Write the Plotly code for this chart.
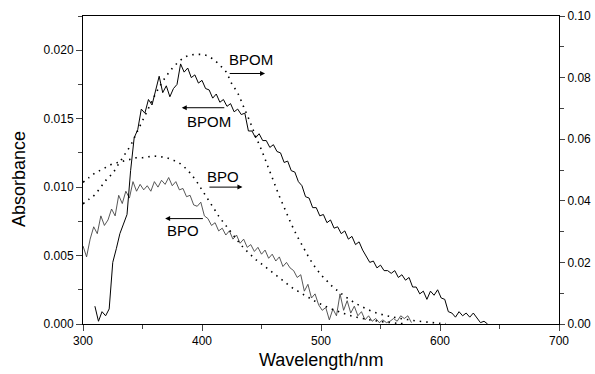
import plotly.graph_objects as go

# ---------------- data ----------------
# BPOM measured spectrum (left axis), 310..640 nm every 3 nm
bpom_wl = list(range(310, 641, 3))
bpom_abs = [
    0.0013, 0.0002, 0.0009, 0.0006, 0.0011, 0.0045, 0.0055, 0.0066, 0.0073, 0.0080,
    0.0112, 0.0136, 0.0142, 0.0157, 0.0154, 0.0164, 0.0160, 0.0170, 0.0181, 0.0169,
    0.0174, 0.0166, 0.0172, 0.0175, 0.0190, 0.0184, 0.0187, 0.0180, 0.0182, 0.0176,
    0.0178, 0.0172, 0.0171, 0.0165, 0.0168, 0.0162, 0.0164, 0.0159, 0.0161, 0.0155,
    0.0157, 0.0153, 0.0154, 0.0141, 0.0141, 0.0136, 0.0139, 0.0134, 0.0134, 0.0129,
    0.0131, 0.0126, 0.0125, 0.0118, 0.0119, 0.0112, 0.0111, 0.0104, 0.0101, 0.0093,
    0.0092, 0.0085, 0.0085, 0.0079, 0.0080, 0.0074, 0.0076, 0.0070, 0.0071, 0.0066,
    0.0068, 0.0062, 0.0064, 0.0058, 0.0060, 0.0054, 0.0049, 0.0045, 0.0046, 0.0041,
    0.0043, 0.0039, 0.0039, 0.0037, 0.0039, 0.0034, 0.0036, 0.0032, 0.0034, 0.0027,
    0.0027, 0.0022, 0.0024, 0.0018, 0.0024, 0.0021, 0.0025, 0.0019, 0.0018, 0.0009,
    0.0008, 0.0005, 0.0009, 0.0006, 0.0008, 0.0005, 0.0008, 0.0004, 0.0001, 0.0002,
    0.0000,
]

# BPO measured spectrum (left axis), 300..576 nm every 3 nm
bpo_wl = list(range(300, 577, 3))
bpo_abs = [
    0.0057, 0.0049, 0.0062, 0.0071, 0.0066, 0.0079, 0.0072, 0.0076, 0.0084, 0.0079,
    0.0094, 0.0088, 0.0097, 0.0092, 0.0104, 0.0097, 0.0102, 0.0098, 0.0101, 0.0097,
    0.0104, 0.0100, 0.0105, 0.0102, 0.0107, 0.0101, 0.0104, 0.0098, 0.0099, 0.0093,
    0.0094, 0.0087, 0.0086, 0.0089, 0.0079, 0.0077, 0.0072, 0.0074, 0.0068, 0.0070,
    0.0065, 0.0068, 0.0062, 0.0065, 0.0059, 0.0062, 0.0056, 0.0058, 0.0053, 0.0056,
    0.0051, 0.0054, 0.0048, 0.0051, 0.0046, 0.0049, 0.0042, 0.0045, 0.0041, 0.0039,
    0.0034, 0.0036, 0.0024, 0.0029, 0.0019, 0.0022, 0.0014, 0.0010, 0.0012, 0.0003,
    0.0011, 0.0006, 0.0022, 0.0010, 0.0017, 0.0008, 0.0013, 0.0006, 0.0009, 0.0003,
    0.0006, 0.0002, 0.0004, 0.0001, 0.0003, 0.0001, 0.0002, 0.0004, 0.0002, 0.0006,
    0.0004, 0.0006, 0.0001,
]

# BPOM calculated spectrum (right axis, dotted), 300..605 nm every 5 nm
bpom_calc_wl = list(range(300, 606, 5))
bpom_calc = [
    0.039, 0.0405, 0.042, 0.0445, 0.047, 0.049, 0.052, 0.055, 0.058, 0.062,
    0.066, 0.070, 0.074, 0.0775, 0.0805, 0.083, 0.085, 0.0865, 0.0873, 0.0875,
    0.0875, 0.087, 0.0858, 0.084, 0.082, 0.078, 0.075, 0.0705, 0.066, 0.061,
    0.0565, 0.0515, 0.0465, 0.0415, 0.037, 0.0325, 0.0285, 0.025, 0.0215, 0.0185,
    0.016, 0.014, 0.012, 0.0105, 0.009, 0.0077, 0.0065, 0.0055, 0.0046, 0.0038,
    0.0032, 0.0027, 0.0023, 0.0019, 0.0016, 0.0013, 0.0010, 0.0008, 0.0006, 0.0004,
    0.0002, 0.0001,
]

# BPO calculated spectrum (right axis, dotted), 300..570 nm every 5 nm
bpo_calc_wl = list(range(300, 571, 5))
bpo_calc = [
    0.046, 0.0475, 0.049, 0.050, 0.051, 0.052, 0.0525, 0.053, 0.0535, 0.054,
    0.054, 0.0543, 0.0545, 0.0543, 0.054, 0.0533, 0.0525, 0.051, 0.049, 0.0465,
    0.0435, 0.0405, 0.0375, 0.0345, 0.032, 0.0295, 0.027, 0.0247, 0.0228, 0.021,
    0.0195, 0.018, 0.0165, 0.015, 0.0135, 0.012, 0.0108, 0.0096, 0.0085, 0.0074,
    0.0064, 0.0055, 0.0047, 0.004, 0.0033, 0.0027, 0.0022, 0.0018, 0.0014, 0.0011,
    0.0008, 0.0006, 0.0004, 0.0002, 0.0001,
]

x_ticks = [300, 400, 500, 600, 700]
left_ticks = [0.000, 0.005, 0.010, 0.015, 0.020]
right_ticks = [0.00, 0.02, 0.04, 0.06, 0.08, 0.10]

# labels: (text, wavelength, absorbance)
labels = [("BPOM", 441, 0.0193), ("BPOM", 406, 0.0148), ("BPO", 418, 0.0108), ("BPO", 384, 0.0068)]
# arrows: (tail wl, head wl, absorbance)
arrows = [(422, 453, 0.0183), (420, 383, 0.0158), (405, 434, 0.0100), (402, 369, 0.0077)]

# ---------------- figure ----------------
FONT = "Liberation Sans, Arial, sans-serif"
fig = go.Figure()

fig.add_trace(go.Scatter(x=bpo_wl, y=bpo_abs, mode="lines",
                         line=dict(color="#444444", width=0.9), yaxis="y"))
fig.add_trace(go.Scatter(x=bpom_wl, y=bpom_abs, mode="lines",
                         line=dict(color="black", width=1), yaxis="y"))
fig.add_trace(go.Scatter(x=bpom_calc_wl, y=bpom_calc, mode="lines",
                         line=dict(color="black", width=1.6, dash="1.5px,5px", shape="spline"), yaxis="y2"))
fig.add_trace(go.Scatter(x=bpo_calc_wl, y=bpo_calc, mode="lines",
                         line=dict(color="black", width=1.6, dash="1.5px,5px", shape="spline"), yaxis="y2"))

for text, wl, a in labels:
    fig.add_annotation(x=wl, y=a, xref="x", yref="y", text=text, showarrow=False,
                       font=dict(family=FONT, size=15, color="black"))
for tail, head, a in arrows:
    fig.add_annotation(x=head, y=a, ax=tail, ay=a, xref="x", yref="y", axref="x", ayref="y",
                       text="", showarrow=True, arrowhead=2, arrowsize=1, arrowwidth=1,
                       arrowcolor="black")

# axis titles
fig.add_annotation(x=0.5, y=0, xref="paper", yref="paper", text="Wavelength/nm",
                   showarrow=False, xanchor="center", yanchor="middle", yshift=-36,
                   font=dict(family=FONT, size=18, color="black"))
fig.add_annotation(x=0, y=0.5, xref="paper", yref="paper", text="Absorbance", textangle=-90,
                   showarrow=False, xanchor="center", yanchor="middle", xshift=-64, yshift=-9,
                   font=dict(family=FONT, size=18, color="black"))

fig.update_layout(
    width=595, height=374,
    margin=dict(l=83, r=36, t=16, b=50),
    paper_bgcolor="white", plot_bgcolor="white",
    showlegend=False,
    font=dict(family=FONT, size=12, color="black"),
    xaxis=dict(range=[300, 700], tickvals=x_ticks, ticks="outside", ticklen=6, tickwidth=1,
               showline=True, linecolor="black", linewidth=1, mirror=True,
               showgrid=False, zeroline=False, automargin=False,
               minor=dict(dtick=50, ticks="outside", ticklen=4, tickwidth=1, showgrid=False)),
    yaxis=dict(range=[0, 0.0225], tickvals=left_ticks, tickformat=".3f", ticks="outside",
               ticklen=6, tickwidth=1, showline=True, linecolor="black", linewidth=1,
               showgrid=False, zeroline=False, automargin=False,
               minor=dict(dtick=0.0025, ticks="outside", ticklen=4, tickwidth=1, showgrid=False)),
    yaxis2=dict(range=[0, 0.1], tickvals=right_ticks, tickformat=".2f", ticks="outside",
                ticklen=5, tickwidth=1, showline=True, linecolor="black", linewidth=1,
                overlaying="y", side="right", showgrid=False, zeroline=False, automargin=False,
                minor=dict(dtick=0.01, ticks="outside", ticklen=4, tickwidth=1, showgrid=False)),
)

fig.write_html(
    "out.html",
    config={"displayModeBar": False, "responsive": False},
    post_script=(
        "document.documentElement.style.margin='0';"
        "document.documentElement.style.padding='0';"
        "document.documentElement.style.overflow='hidden';"
        "document.body.style.margin='0';"
        "document.body.style.padding='0';"
        "document.body.style.overflow='hidden';"
    ),
)
